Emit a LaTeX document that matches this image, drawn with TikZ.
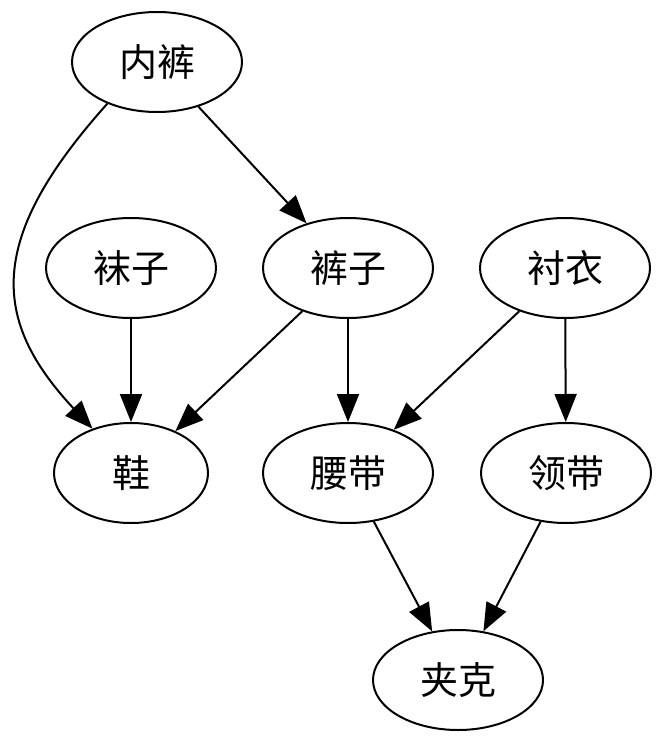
\documentclass[tikz,border=0pt]{standalone}
\usepackage{fontspec}
\newfontfamily\cjk{Noto Sans CJK SC}
\usetikzlibrary{shapes.geometric,arrows.meta}
\begin{document}
\begin{tikzpicture}[x=1pt,y=-1pt,
  nd/.style={ellipse,draw,line width=2pt,minimum width=170pt,minimum height=100pt,inner sep=0pt,font=\cjk\fontsize{38}{44}\selectfont},
  ed/.style={line width=2pt,-{Triangle[length=28pt,width=22pt]}}]
\useasboundingbox[fill=white] (0,0) rectangle (660,744);
\node[nd] (nk) at (157,62) {内裤};
\node[nd] (wz) at (131,268) {袜子};
\node[nd] (kz) at (348,268) {裤子};
\node[nd] (cy) at (565,268) {衬衣};
\node[nd,minimum width=154pt] (xie) at (131,473) {鞋};
\node[nd] (yd) at (348,473) {腰带};
\node[nd] (ld) at (566,473) {领带};
\node[nd] (jk) at (458,680) {夹克};
\draw[ed] (nk.220) .. controls (-14,239) and (-9,320) .. (xie.131);
\draw[ed] (nk) -- (kz);
\draw[ed] (wz) -- (xie);
\draw[ed] (kz) -- (xie);
\draw[ed] (kz) -- (yd);
\draw[ed] (cy) -- (yd);
\draw[ed] (cy) -- (ld);
\draw[ed] (yd) -- (jk);
\draw[ed] (ld) -- (jk);
\end{tikzpicture}
\end{document}
